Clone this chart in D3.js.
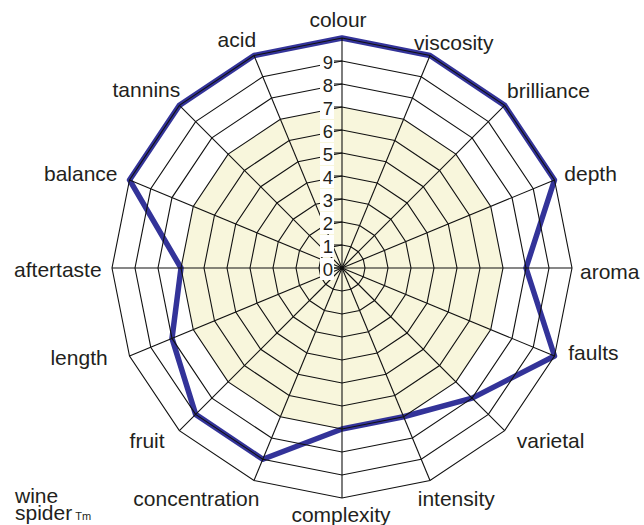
<!DOCTYPE html>
<html><head><meta charset="utf-8">
<script src="https://cdn.jsdelivr.net/npm/d3@7"></script>
<style>body{margin:0;background:#fff}svg{display:block}text{font-family:"Liberation Sans",Arial,sans-serif;fill:#231f20}</style>
</head><body><svg id="c" width="644" height="525"></svg>
<script>
const categories = ["colour","viscosity","brilliance","depth","aroma","faults","varietal","intensity","complexity","concentration","fruit","length","aftertaste","balance","tannins","acid"];
const values = [10,10,10,10,8,10,8,7,7,9,9,8,7,10,10,10];
const tickLabels = [0,1,2,3,4,5,6,7,8,9];
const ringLevels = [1,2,3,4,5,6,7,8,9,10];
const shadeLevel = 7;

// small label-placement adjustments (layout only)
const labelNudge = [[-4,-1],[4,3],[6,-3],[2,0],[-3,4],[6,-10],[14,-2],[7,2],[-1,0],[-28,2],[-13,-2],[-14,-5],[2,2],[-4,0],[-1,-4],[-6,0]];

const svg = d3.select("#c");
const cx = 342, cy = 268;
const r = d3.scaleLinear().domain([0,10]).range([0,230]);
const ang = d3.scalePoint().domain(categories.concat(["_end"])).range([0, 2*Math.PI]);
const g = svg.append("g").attr("transform",`translate(${cx},${cy})`);

const radial = d3.lineRadial().curve(d3.curveLinearClosed);
const ringPath = v => radial(categories.map(c => [ang(c), r(v)]));

// shaded band
g.append("path").attr("d", ringPath(shadeLevel)).attr("fill","#f8f6dc").attr("stroke","none");

// data line
g.append("path")
  .attr("d", radial(categories.map((c,i) => [ang(c), r(values[i])])))
  .attr("fill","none").attr("stroke","#333399").attr("stroke-width",5.5).attr("stroke-linejoin","round");

// rings
g.selectAll("path.ring").data(ringLevels).join("path").attr("class","ring")
  .attr("d", d => ringPath(d)).attr("fill","none").attr("stroke","#111").attr("stroke-width",1.1);

// spokes
g.selectAll("line.spoke").data(categories).join("line").attr("class","spoke")
  .attr("x1",0).attr("y1",0)
  .attr("x2", c => r(10)*Math.sin(ang(c))).attr("y2", c => -r(10)*Math.cos(ang(c)))
  .attr("stroke","#111").attr("stroke-width",1.1);

// tick marks and labels on colour axis
const tk = g.selectAll("g.tick").data(tickLabels).join("g").attr("class","tick")
  .attr("transform", d => `translate(0,${-r(d)})`);
tk.append("rect").attr("x",-22).attr("y",-10).attr("width",14).attr("height",22).attr("fill","#fff");
tk.append("line").attr("x1",-8).attr("x2",0).attr("y1",0).attr("y2",0).attr("stroke","#111").attr("stroke-width",1.1);
tk.append("text").attr("x",-9).attr("y",1.5).attr("dy","0.36em").attr("text-anchor","end")
  .style("font-size","18.5px").text(d => d);

// category labels
const R = 238, h = 18;
categories.forEach((c,i) => {
  const a = ang(c), s = Math.sin(a), co = Math.cos(a);
  const t = g.append("text").style("font-size","21px").attr("text-anchor","middle").attr("dy","0.35em").text(c);
  const w = t.node().getComputedTextLength();
  t.attr("x", R*s + 1.1*s*w/2 + labelNudge[i][0]).attr("y", -R*co - co*h/2 + labelNudge[i][1]);
});

// brand text
svg.append("text").attr("x",15).attr("y",503).style("font-size","21px").text("wine");
const sp = svg.append("text").attr("x",15).attr("y",520).style("font-size","21px");
sp.append("tspan").text("spider");
sp.append("tspan").attr("dx",3).style("font-size","11px").text("Tm");
</script></body></html>
